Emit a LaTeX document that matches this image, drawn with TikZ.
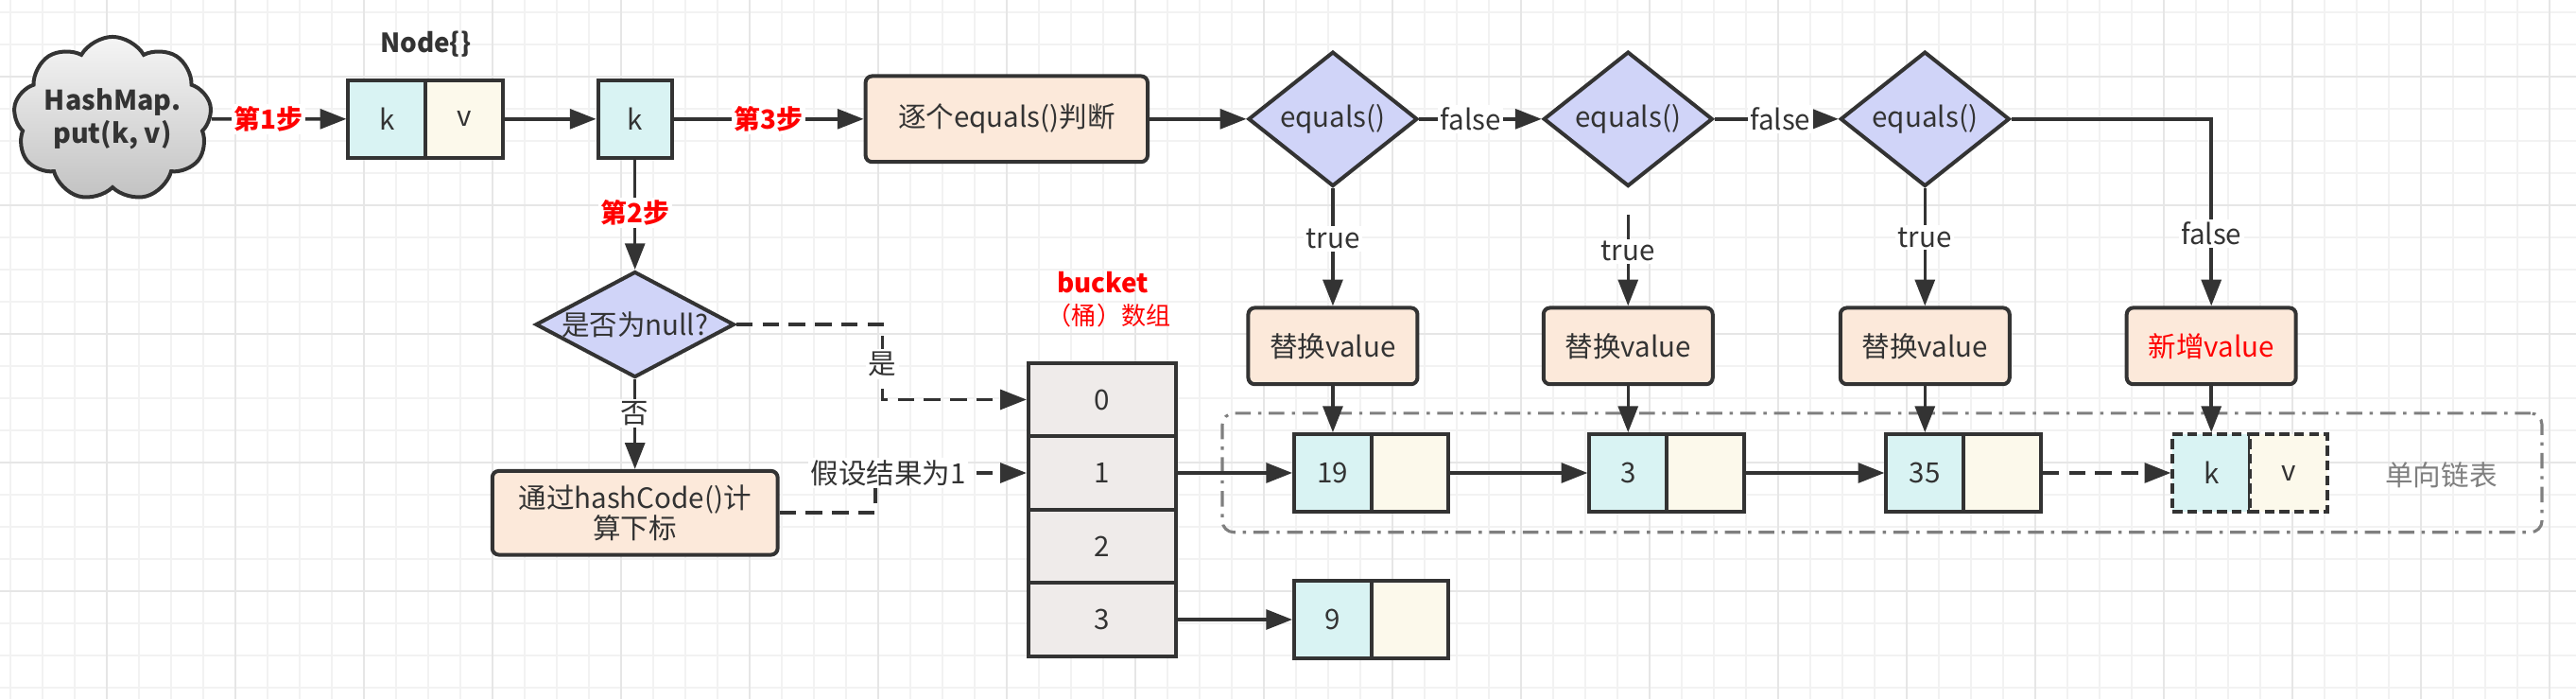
\documentclass[tikz,border=0pt]{standalone}
\usepackage{fontspec}
\setmainfont{Noto Sans CJK SC}
\usetikzlibrary{arrows.meta,shapes.geometric,shapes.symbols}
\definecolor{lineC}{HTML}{333333}
\definecolor{txt}{HTML}{333333}
\definecolor{cyanF}{HTML}{D9F3F3}
\definecolor{creamF}{HTML}{FCF9EB}
\definecolor{peachF}{HTML}{FCE9DA}
\definecolor{lavF}{HTML}{D0D4F8}
\definecolor{bucketF}{HTML}{EFEBEA}
\definecolor{frameC}{HTML}{7F7F7F}
\definecolor{gridMinor}{HTML}{F2F2F2}
\definecolor{gridMajor}{HTML}{E6E6E6}
\definecolor{redT}{HTML}{FF0000}
\tikzset{
  conn/.style={draw=lineC, line width=2pt, -{Triangle[length=16pt,width=12pt]}},
  dconn/.style={conn, dash pattern=on 10pt off 6pt},
  cellk/.style={rectangle, draw=lineC, line width=2.3pt, fill=cyanF, minimum width=47pt, minimum height=47pt, inner sep=0pt},
  cellv/.style={cellk, fill=creamF},
  pbox/.style={rectangle, draw=lineC, line width=2.3pt, fill=peachF, rounded corners=4pt, inner sep=0pt},
  rbox/.style={pbox, minimum width=103pt, minimum height=46.5pt},
  dia/.style={diamond, draw=lineC, line width=2.3pt, fill=lavF, inner sep=0pt, minimum width=103pt, minimum height=72pt},
  lbl/.style={fill=white, inner sep=1.5pt, text=txt},
  steplbl/.style={lbl, text=redT, font=\fontsize{16}{19}\selectfont\bfseries},
  brow/.style={rectangle, draw=lineC, line width=2.3pt, fill=bucketF, minimum width=90pt, minimum height=44.6pt, inner sep=0pt},
  frame/.style={rectangle, draw=frameC, line width=1.8pt, rounded corners=7pt, dash pattern=on 9.5pt off 4.5pt on 2pt off 4.5pt},
}
\begin{document}
\begin{tikzpicture}[x=1pt,y=-1pt, font=\fontsize{17}{20}\selectfont, text=txt]
\useasboundingbox (0,0) rectangle (1568,425);
\fill[white] (0,0) rectangle (1568,425);
% grid
\foreach \i in {0,...,79} \draw[gridMinor, line width=1.1pt] ({6.33+\i*19.563},0) -- ({6.33+\i*19.563},425);
\foreach \i in {0,...,21} \draw[gridMinor, line width=1.1pt] (0,{7.48+\i*19.563}) -- (1568,{7.48+\i*19.563});
\foreach \i in {0,...,19} \draw[gridMajor, line width=1.4pt] ({65.02+\i*78.25},0) -- ({65.02+\i*78.25},425);
\foreach \i in {0,...,4} \draw[gridMajor, line width=1.4pt] (0,{46.6+\i*78.25}) -- (1568,{46.6+\i*78.25});

% list frame
\node[frame, minimum width=803.3pt, minimum height=72.4pt] (lframe) at (1145.65,287.6) {};
\node[text=frameC] (lframelbl) at (1486,289) {单向链表};

% top row
\node[cloud, cloud puffs=9, cloud puff arc=120, cloud ignores aspect, minimum width=112pt, minimum height=100pt,
      draw=lineC, line width=2.3pt, top color=white!96!black, bottom color=black!24, align=center, inner sep=0pt,
      font=\fontsize{16.5}{20.5}\selectfont\bfseries] (cloud) at (68.5,72.4) {HashMap.\\put(k, v)};
\node[cellk] (nk) at (235.5,72.4) {k};
\node[cellv] (nv) at (282.5,72.4) {v};
\node[font=\fontsize{16}{20}\selectfont\bfseries] (nodelbl) at (259,27) {Node\{\}};
\node[cellk, minimum width=45pt] (k2) at (386.5,72.4) {k};
\node[pbox, minimum width=171.7pt, minimum height=52.2pt] (eqall) at (612.7,72.4) {逐个equals()判断};
\node[dia] (d1) at (811.3,72.4) {equals()};
\node[dia] (d2) at (991,72.4) {equals()};
\node[dia] (d3) at (1171.7,72.4) {equals()};

% replace boxes
\node[rbox] (r1) at (811.3,210.5) {替换value};
\node[rbox] (r2) at (991,210.5) {替换value};
\node[rbox] (r3) at (1171.7,210.5) {替换value};
\node[rbox, text=redT] (add) at (1346,210.5) {新增value};

% list nodes
\node[cellk] (l19k) at (811.3,287.7) {19};
\node[cellv] (l19v) at (858.3,287.7) {};
\node[cellk] (l3k) at (991,287.7) {3};
\node[cellv] (l3v) at (1038,287.7) {};
\node[cellk] (l35k) at (1171.7,287.7) {35};
\node[cellv] (l35v) at (1218.7,287.7) {};
\node[cellk, dash pattern=on 6pt off 3pt] (lnk) at (1346,287.7) {k};
\node[cellv, dash pattern=on 6pt off 3pt] (lnv) at (1393,287.7) {v};
\node[cellk] (l9k) at (811.3,376.9) {9};
\node[cellv] (l9v) at (858.3,376.9) {};

% bucket
\node[text=redT, font=\fontsize{16}{20}\selectfont\bfseries] (bkt1) at (671.3,171.6) {bucket};
\node[text=redT, font=\fontsize{15}{20}\selectfont] (bkt2) at (675,192.2) {（桶）数组};
\node[brow] (b0) at (671,243.1) {0};
\node[brow] (b1) at (671,287.7) {1};
\node[brow] (b2) at (671,332.3) {2};
\node[brow] (b3) at (671,376.9) {3};

% null check
\node[dia, minimum width=121pt, minimum height=64.4pt] (isnull) at (386.5,197.4) {\makebox[0pt]{是否为null?}};
\node[pbox, minimum width=173.7pt, minimum height=51pt, align=center, font=\fontsize{17}{18.5}\selectfont] (hc) at (386.5,312) {通过hashCode()计\\算下标};

% connectors
\draw[conn] (cloud.east) -- node[steplbl, pos=0.42]{第1步} (nk.west);
\draw[conn] (nv.east) -- (k2.west);
\draw[conn] (k2.east) -- node[steplbl]{第3步} (eqall.west);
\draw[conn] (eqall.east) -- (d1.west);
\draw[conn] (d1.east) -- node[lbl, pos=0.42]{false} (d2.west);
\draw[conn] (d2.east) -- node[lbl, pos=0.53]{false} (d3.west);
\draw[conn] (d3.east) -| node[lbl, pos=0.807]{false} (add.north);
\draw[conn] (d1.south) -- node[lbl, pos=0.43]{true} (r1.north);
\draw[conn, shorten <=16pt] (d2.south) -- node[lbl, pos=0.537]{true} (r2.north);
\draw[conn] (d3.south) -- node[lbl, pos=0.42]{true} (r3.north);
\draw[conn] (r1.south) -- (l19k.north);
\draw[conn] (r2.south) -- (l3k.north);
\draw[conn] (r3.south) -- (l35k.north);
\draw[conn] (add.south) -- (lnk.north);
\draw[conn] (l19v.east) -- (l3k.west);
\draw[conn] (l3v.east) -- (l35k.west);
\draw[dconn] (l35v.east) -- (lnk.west);
\draw[conn] (k2.south) -- node[steplbl, pos=0.484]{第2步} (isnull.north);
\draw[conn] (isnull.south) -- node[lbl, pos=0.38]{否} (hc.north);
\draw[dconn] (isnull.east) -- ++(89,0) |- node[lbl, pos=0.264]{是} (b0.west);
\draw[dconn] (hc.east) -- ++(58.3,0) |- node[lbl, pos=0.543]{假设结果为1} (b1.west);
\draw[conn] (b1.east) -- (l19k.west);
\draw[conn] (b3.east) -- (l9k.west);
\end{tikzpicture}
\end{document}
